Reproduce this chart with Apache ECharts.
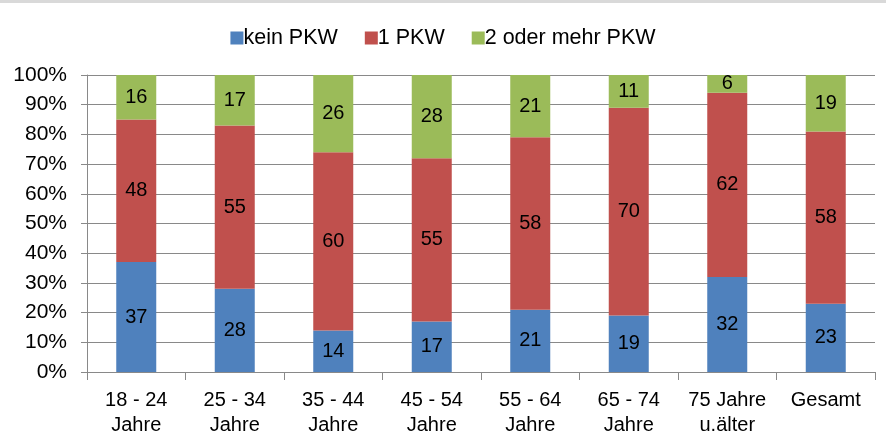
<!DOCTYPE html>
<html>
<head>
<meta charset="utf-8">
<script src="https://cdn.jsdelivr.net/npm/echarts@6/dist/echarts.min.js"></script>
<style>
  html, body { margin: 0; padding: 0; background: #fff; }
  #topbar { position: absolute; left: 0; top: 0; width: 886px; height: 3px; background: #d9d9d9; }
  #chart { width: 886px; height: 441px; }
</style>
</head>
<body>
<div id="topbar"></div>
<div id="chart"></div>
<script>
const categories = ['18 - 24\nJahre', '25 - 34\nJahre', '35 - 44\nJahre', '45 - 54\nJahre',
  '55 - 64\nJahre', '65 - 74\nJahre', '75 Jahre\nu.älter', 'Gesamt']
const keinPkw = [37, 28, 14, 17, 21, 19, 32, 23]
const einPkw = [48, 55, 60, 55, 58, 70, 62, 58]
const zweiPkw = [16, 17, 26, 28, 21, 11, 6, 19]
const yTicks = [0, 10, 20, 30, 40, 50, 60, 70, 80, 90, 100]

const font = 'Liberation Sans, Arial, sans-serif'
const label = {
  show: true,
  position: 'inside',
  color: '#000',
  fontSize: 20,
  fontFamily: font
}

function bar (name, data, color) {
  return {
    name: name,
    type: 'bar',
    stack: 'total',
    data: data,
    barWidth: 40,
    itemStyle: { color: color },
    label: label,
    emphasis: { disabled: true }
  }
}

const myChart = echarts.init(document.getElementById('chart'), null, { renderer: 'canvas' })
myChart.setOption({
  animation: false,
  legend: {
    top: 22,
    left: 'center',
    itemWidth: 13,
    itemHeight: 13,
    itemGap: 27,
    icon: 'rect',
    textStyle: { fontSize: 21.5, fontFamily: font, color: '#000', padding: [0, 0, 0, -5] },
    data: ['kein PKW', '1 PKW', '2 oder mehr PKW']
  },
  grid: {
    left: 87,
    right: 11,
    top: 75,
    bottom: 69
  },
  xAxis: {
    type: 'category',
    data: categories,
    axisLine: { lineStyle: { color: '#898989', width: 1 } },
    axisTick: { show: true, length: 8, lineStyle: { color: '#898989' } },
    axisLabel: {
      color: '#000',
      fontSize: 20,
      fontFamily: font,
      lineHeight: 25,
      margin: 16,
      interval: 0
    }
  },
  yAxis: {
    type: 'value',
    min: 0,
    max: 100,
    interval: 10,
    axisLine: { show: true, lineStyle: { color: '#898989' } },
    axisTick: { show: true, length: 6, lineStyle: { color: '#898989' } },
    splitLine: { lineStyle: { color: '#898989', width: 1 } },
    axisLabel: {
      color: '#000',
      fontSize: 21,
      fontFamily: font,
      margin: 20,
      formatter: v => yTicks.includes(v) ? v + '%' : ''
    }
  },
  series: [
    bar('kein PKW', keinPkw, '#4f81bd'),
    bar('1 PKW', einPkw, '#c0504d'),
    bar('2 oder mehr PKW', zweiPkw, '#9bbb59')
  ]
})
</script>
</body>
</html>
